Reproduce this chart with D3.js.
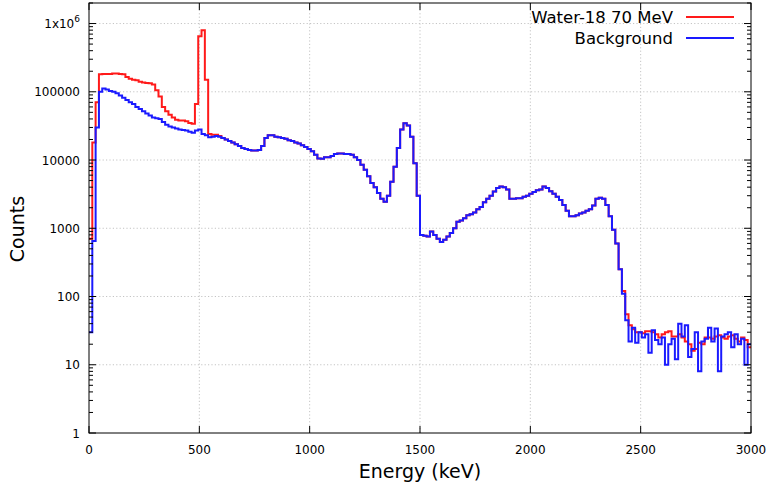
<!DOCTYPE html>
<html>
<head>
<meta charset="utf-8">
<script src="https://cdn.jsdelivr.net/npm/d3@7"></script>
<style>
  html, body { margin: 0; padding: 0; background: #fff; }
  svg { display: block; font-family: "DejaVu Sans", sans-serif; }
</style>
</head>
<body>
<svg id="chart" width="767" height="489"></svg>
<script>
// Gamma-ray spectrum, 15 keV channels from 0 to 3000 keV.
const channelWidth = 15;

// Channels 0-39 (0-600 keV): the two runs differ here (annihilation peak at 511 keV).
const waterLow = [700, 18000, 70000, 180000, 182000, 182000, 183000, 185000, 185000, 183000,
  180000, 165000, 155000, 150000, 148000, 140000, 137000, 135000, 133000, 128000,
  105000, 85000, 60000, 52000, 46000, 42000, 39000, 38000, 38000, 37000,
  35000, 34000, 66000, 650000, 800000, 150000, 24000, 23500, 23500, 22500];
const bgLow = [30, 650, 30000, 100000, 112000, 108000, 103000, 100000, 95000, 88000,
  82000, 76000, 70000, 66000, 60000, 56000, 52000, 48000, 45000, 42000,
  41000, 40000, 36000, 33000, 31000, 30000, 29000, 28000, 27500, 27000,
  26000, 25000, 27000, 28000, 24000, 23000, 21500, 22000, 22500, 22000];

// Channels 40-159 (600-2400 keV): both runs agree.
const sharedMid = [21000, 20000, 19000, 18000, 17000, 16000, 15000, 14500, 14000, 13800,
  13800, 14000, 16000, 21000, 23000, 23000, 22000, 21500, 21000, 20500,
  19500, 19000, 18000, 17500, 16500, 15500, 14500, 13500, 12000, 10500,
  10400, 11000, 11000, 11500, 12300, 12500, 12500, 12300, 12300, 12000,
  11000, 10000, 8500, 7200, 5800, 4600, 4000, 3300, 2700, 2450,
  3000, 4800, 8000, 15000, 28000, 34500, 32000, 22000, 9000, 3000,
  800, 780, 760, 900, 800, 700, 630, 680, 760, 850,
  1000, 1250, 1300, 1400, 1550, 1600, 1700, 1900, 2050, 2400,
  2700, 3000, 3450, 3900, 4100, 4000, 3700, 2700, 2700, 2750,
  2750, 2900, 3000, 3200, 3400, 3600, 3700, 4100, 3900, 3500,
  3200, 2900, 2600, 2200, 1800, 1500, 1500, 1550, 1650, 1700,
  1800, 1900, 2150, 2700, 2800, 2700, 2200, 1500, 950, 600];

// Channels 160-199 (2400-3000 keV): low-count tail.
const waterTail = [250, 120, 55, 38, 33, 30, 30, 29, 31, 31,
  30, 28, 25, 28, 30, 31, 26, 26, 28, 25,
  22, 20, 16, 17, 21, 20, 25, 25, 24, 26,
  27, 25, 24, 26, 27, 24, 22, 25, 23, 18];
const bgTail = [250, 110, 45, 22, 35, 21, 30, 25, 28, 15,
  32, 23, 20, 25, 10, 20, 24, 12, 40, 26,
  38, 13, 17, 30, 8, 22, 24, 35, 22, 34,
  8, 26, 28, 30, 18, 28, 20, 24, 10, 20];

const seriesNames = ["Water-18 70 MeV", "Background"];
const seriesColors = ["#ff1a1a", "#1a1aff"];
const xTicks = [0, 500, 1000, 1500, 2000, 2500, 3000];
const yTicks = [1, 10, 100, 1000, 10000, 100000, 1000000];
const yTickLabels = ["1", "10", "100", "1000", "10000", "100000", "1x10^6"];

const waterCounts = waterLow.concat(sharedMid, waterTail);
const bgCounts = bgLow.concat(sharedMid, bgTail);

const svg = d3.select("#chart");
const plot = { left: 89, right: 751, top: 3, bottom: 433 };

const x = d3.scaleLinear().domain([0, 3000]).range([plot.left, plot.right]);
const y = d3.scaleLog().domain([1, 2e6]).range([plot.bottom, plot.top]);

// Grid
const grid = svg.append("g").attr("stroke", "#c4c4c4").attr("stroke-width", 1)
  .attr("stroke-dasharray", "1.2,2.2");
xTicks.filter(t => t > 0 && t < 3000).forEach(t => {
  grid.append("line").attr("x1", x(t)).attr("x2", x(t))
    .attr("y1", plot.top).attr("y2", plot.bottom);
});
yTicks.filter(t => t > 1).forEach(t => {
  grid.append("line").attr("x1", plot.left).attr("x2", plot.right)
    .attr("y1", y(t)).attr("y2", y(t));
});

// Histogram step lines
svg.append("clipPath").attr("id", "clip").append("rect")
  .attr("x", plot.left).attr("y", plot.top)
  .attr("width", plot.right - plot.left).attr("height", plot.bottom - plot.top);

function stepPoints(counts) {
  const pts = counts.map((c, i) => [i * channelWidth, c]);
  pts.push([counts.length * channelWidth, counts[counts.length - 1]]);
  return pts;
}
const line = d3.line()
  .x(d => x(d[0])).y(d => y(d[1]))
  .curve(d3.curveStepAfter);

[waterCounts, bgCounts].forEach((counts, k) => {
  svg.append("path")
    .attr("clip-path", "url(#clip)")
    .attr("d", line(stepPoints(counts)))
    .attr("fill", "none")
    .attr("stroke", seriesColors[k])
    .attr("stroke-width", 2)
    .attr("stroke-linejoin", "miter");
});

// Frame and ticks
const axis = svg.append("g").attr("stroke", "#000").attr("stroke-width", 1);
axis.append("rect")
  .attr("x", plot.left).attr("y", plot.top)
  .attr("width", plot.right - plot.left).attr("height", plot.bottom - plot.top)
  .attr("fill", "none");

const majorLen = 7, minorLen = 4;
xTicks.forEach(t => {
  axis.append("line").attr("x1", x(t)).attr("x2", x(t))
    .attr("y1", plot.bottom).attr("y2", plot.bottom - majorLen);
  axis.append("line").attr("x1", x(t)).attr("x2", x(t))
    .attr("y1", plot.top).attr("y2", plot.top + majorLen);
});
yTicks.forEach(t => {
  axis.append("line").attr("x1", plot.left).attr("x2", plot.left + majorLen)
    .attr("y1", y(t)).attr("y2", y(t));
  axis.append("line").attr("x1", plot.right).attr("x2", plot.right - majorLen)
    .attr("y1", y(t)).attr("y2", y(t));
});
const minorTicks = [];
yTicks.forEach(t => {
  for (let m = 2; m <= 9; m++) {
    const v = t * m;
    if (v <= 2e6) minorTicks.push(v);
  }
});
minorTicks.forEach(v => {
  axis.append("line").attr("x1", plot.left).attr("x2", plot.left + minorLen)
    .attr("y1", y(v)).attr("y2", y(v));
  axis.append("line").attr("x1", plot.right).attr("x2", plot.right - minorLen)
    .attr("y1", y(v)).attr("y2", y(v));
});

// Tick labels
const labels = svg.append("g").attr("fill", "#000").attr("font-size", 12);
xTicks.forEach(t => {
  labels.append("text").attr("x", x(t)).attr("y", plot.bottom + 21)
    .attr("text-anchor", "middle").text(t);
});
yTicks.forEach((t, i) => {
  const txt = labels.append("text").attr("x", plot.left - 9).attr("y", y(t) + 4.5)
    .attr("text-anchor", "end");
  const lab = yTickLabels[i];
  if (lab.includes("^")) {
    const [base, exp] = lab.split("^");
    txt.append("tspan").text(base);
    txt.append("tspan").attr("dy", -6).attr("font-size", 9).text(exp);
  } else {
    txt.text(lab);
  }
});

// Axis titles
svg.append("text").attr("x", (plot.left + plot.right) / 2).attr("y", 478)
  .attr("text-anchor", "middle").attr("font-size", 19).text("Energy (keV)");
svg.append("text")
  .attr("transform", `translate(24,${(plot.top + plot.bottom) / 2 + 11}) rotate(-90)`)
  .attr("text-anchor", "middle").attr("font-size", 19).text("Counts");

// Legend
const legend = svg.append("g").attr("font-size", 16.5);
seriesNames.forEach((name, k) => {
  const ly = 17 + k * 21;
  legend.append("text").attr("x", 673).attr("y", ly + 6)
    .attr("text-anchor", "end").text(name);
  legend.append("line").attr("x1", 686).attr("x2", 734)
    .attr("y1", ly).attr("y2", ly)
    .attr("stroke", seriesColors[k]).attr("stroke-width", 2);
});
</script>
</body>
</html>
